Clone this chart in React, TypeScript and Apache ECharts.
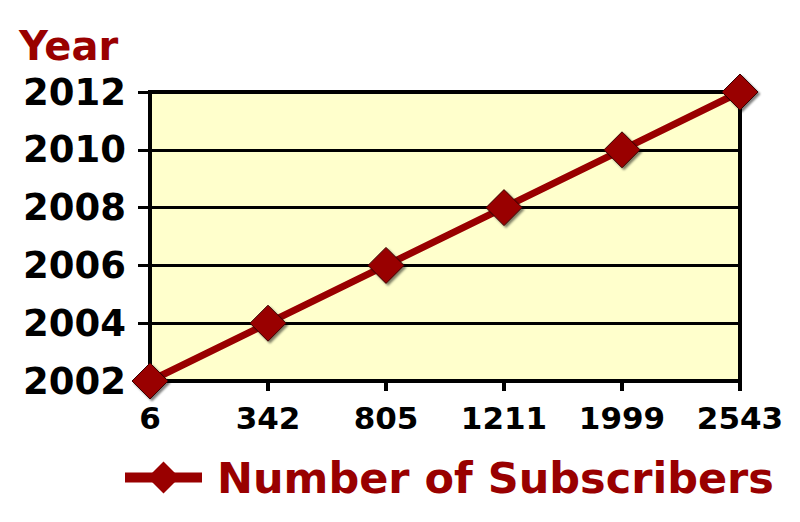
import React, { useEffect, useRef } from "react";
import * as echarts from "echarts";

const categories = ["6", "342", "805", "1211", "1999", "2543"];
const years = [2002, 2004, 2006, 2008, 2010, 2012];
const seriesName = "Number of Subscribers";

export default function App() {
  const ref = useRef<HTMLDivElement>(null);
  useEffect(() => {
    if (!ref.current) return;
    const chart = echarts.init(ref.current, undefined, { renderer: "svg" });
    const font = "'DejaVu Sans', Verdana, sans-serif";
    chart.setOption({
      animation: false,
      title: {
        text: "Year",
        left: 6,
        top: 13,
        textStyle: { color: "#990000", fontSize: 40, fontWeight: "bold", fontFamily: font },
      },
      grid: {
        left: 142,
        right: 52,
        top: 84,
        bottom: 133,
        show: true,
        backgroundColor: "#FFFFCC",
        borderColor: "#000",
        borderWidth: 4,
      },
      legend: {
        data: [seriesName],
        left: 107,
        top: 443,
        itemWidth: 77,
        itemHeight: 40,
        lineStyle: { width: 10 },
        itemStyle: { borderWidth: 0, shadowBlur: 0, shadowOffsetX: 0, shadowOffsetY: 0 },
        textStyle: {
          color: "#990000",
          fontSize: 43,
          fontWeight: "bold",
          fontFamily: font,
          padding: [0, 0, 0, 10],
        },
      },
      xAxis: {
        type: "category",
        data: categories,
        boundaryGap: false,
        axisLine: { show: true, lineStyle: { color: "#000", width: 4 } },
        axisTick: { show: true, length: 10, lineStyle: { color: "#000", width: 4 } },
        axisLabel: { color: "#000", fontSize: 31, fontWeight: "bold", fontFamily: font, margin: 21 },
        splitLine: { show: false },
      },
      yAxis: {
        type: "value",
        min: 2002,
        max: 2012,
        interval: 2,
        axisLine: { show: true, lineStyle: { color: "#000", width: 4 } },
        axisTick: { show: true, length: 12, lineStyle: { color: "#000", width: 3 } },
        axisLabel: {
          color: "#000",
          fontSize: 37,
          fontWeight: "bold",
          fontFamily: font,
          margin: 24,
          formatter: (v: number) => String(v),
        },
        splitLine: { show: true, lineStyle: { color: "#000", width: 3 } },
      },
      series: [
        {
          name: seriesName,
          type: "line",
          data: years,
          symbol: "diamond",
          symbolSize: 36,
          lineStyle: { color: "#990000", width: 7 },
          itemStyle: {
            color: "#990000",
            borderColor: "#3a0000",
            borderWidth: 1,
            shadowColor: "rgba(0,0,0,0.5)",
            shadowBlur: 2,
            shadowOffsetX: 2,
            shadowOffsetY: 2,
          },
        },
      ],
    });
    return () => chart.dispose();
  }, []);
  return <div ref={ref} style={{ width: 784, height: 506 }} />;
}
